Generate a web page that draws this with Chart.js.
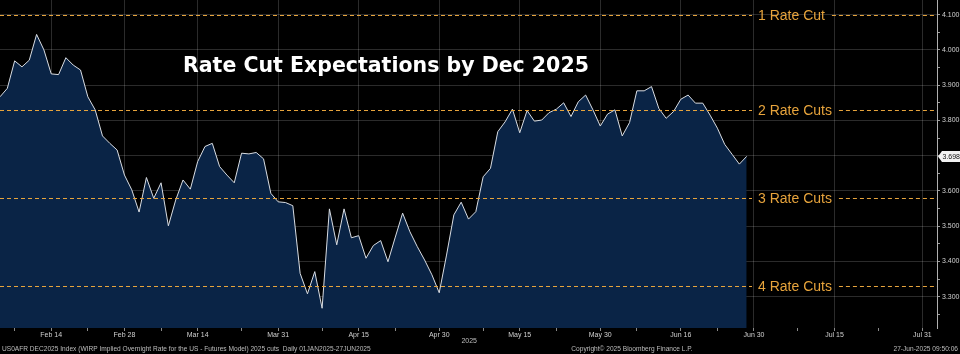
<!DOCTYPE html>
<html>
<head>
<meta charset="utf-8">
<script src="https://cdn.jsdelivr.net/npm/chart.js@4.4.1/dist/chart.umd.min.js"></script>
<style>
  html, body { margin: 0; padding: 0; background: #000; }
  #wrap { width: 960px; height: 354px; }
</style>
</head>
<body>
<div id="wrap"><canvas id="chart" width="960" height="354"></canvas></div>
<script>
// Implied overnight rate for Dec 2025 (WIRP), one value per business day from 5 Feb 2025
var rates = [
  3.867, 3.891, 3.969, 3.952, 3.971, 4.044, 4.000, 3.932, 3.930, 3.978,
  3.957, 3.943, 3.867, 3.830, 3.756, 3.735, 3.716, 3.645, 3.603, 3.540,
  3.638, 3.579, 3.623, 3.501, 3.574, 3.631, 3.605, 3.683, 3.726, 3.735,
  3.669, 3.645, 3.623, 3.707, 3.705, 3.709, 3.691, 3.593, 3.569, 3.567,
  3.558, 3.366, 3.308, 3.371, 3.267, 3.549, 3.447, 3.549, 3.467, 3.473,
  3.409, 3.445, 3.459, 3.399, 3.469, 3.537, 3.484, 3.442, 3.404, 3.362,
  3.311, 3.418, 3.532, 3.568, 3.520, 3.541, 3.640, 3.664, 3.768, 3.796,
  3.832, 3.765, 3.828, 3.798, 3.801, 3.822, 3.832, 3.850, 3.811, 3.853,
  3.872, 3.830, 3.784, 3.818, 3.830, 3.756, 3.794, 3.884, 3.884, 3.896,
  3.834, 3.806, 3.825, 3.860, 3.872, 3.849, 3.849, 3.815, 3.778, 3.732,
  3.704, 3.676, 3.698
];

// axis runs over business days, past the last observation
var firstDay = '2025-02-05';
var lastDay = '2025-08-04';

var tickDates = ['2025-02-14', '2025-02-28', '2025-03-14', '2025-03-31', '2025-04-15', '2025-04-30',
                 '2025-05-15', '2025-05-30', '2025-06-16', '2025-06-30', '2025-07-15', '2025-07-31'];
var tickLabels = ['Feb 14', 'Feb 28', 'Mar 14', 'Mar 31', 'Apr 15', 'Apr 30',
                  'May 15', 'May 30', 'Jun 16', 'Jun 30', 'Jul 15', 'Jul 31'];
var minorTickDates = ['2025-02-07', '2025-02-21', '2025-03-07', '2025-03-24', '2025-04-08', '2025-04-22',
                      '2025-05-08', '2025-05-22', '2025-06-06', '2025-06-23', '2025-07-08', '2025-07-23'];

var yMajor = [3.3, 3.4, 3.5, 3.6, 3.7, 3.8, 3.9, 4.0, 4.1];
var yMinor = [3.25, 3.35, 3.45, 3.55, 3.65, 3.75, 3.85, 3.95, 4.05];

var cutLevels = [4.10, 3.83, 3.58, 3.33];
var cutLabels = ['1 Rate Cut', '2 Rate Cuts', '3 Rate Cuts', '4 Rate Cuts'];

var titleText = 'Rate Cut Expectations by Dec 2025';
var footLeft = 'US0AFR DEC2025 Index (WIRP Implied Overnight Rate for the US - Futures Model) 2025 cuts  Daily 01JAN2025-27JUN2025';
var footMid = 'Copyright\u00A9 2025 Bloomberg Finance L.P.';
var footRight = '27-Jun-2025 09:50:06';

// build business-day categories
var days = [];
var d = new Date(firstDay + 'T00:00:00Z');
var end = new Date(lastDay + 'T00:00:00Z');
while (d <= end) {
  var wd = d.getUTCDay();
  if (wd != 0 && wd != 6) days.push(d.toISOString().slice(0, 10));
  d.setUTCDate(d.getUTCDate() + 1);
}

var majorIdx = tickDates.map(function (t) { return days.indexOf(t); });
var minorIdx = minorTickDates.map(function (t) { return days.indexOf(t); });

var orange = '#e7a43c';
var gridCol = 'rgba(255,255,255,0.17)';

function isMajorY(v) { return Math.abs(v * 10 - Math.round(v * 10)) < 1e-6; }

var overlay = {
  id: 'overlay',
  afterDatasetsDraw: function (chart) {
    var c = chart.ctx, area = chart.chartArea, y = chart.scales.y;
    c.save();

    // rate cut levels
    c.font = '14px "Liberation Sans"';
    c.textBaseline = 'middle';
    var lx = area.right - 179;
    for (var i = 0; i < cutLevels.length; i++) {
      var py = Math.round(y.getPixelForValue(cutLevels[i])) + 0.5;
      var w = c.measureText(cutLabels[i]).width;
      c.strokeStyle = orange;
      c.lineWidth = 1.2;
      c.setLineDash([4, 3]);
      c.beginPath();
      c.moveTo(area.left, py); c.lineTo(lx - 6, py);
      c.moveTo(lx + w + 7, py); c.lineTo(area.right, py);
      c.stroke();
      c.fillStyle = orange;
      c.fillText(cutLabels[i], lx, py + 1);
    }
    c.setLineDash([]);

    // title
    c.font = 'bold 20.5px "DejaVu Sans"';
    c.fillStyle = '#ffffff';
    c.textBaseline = 'alphabetic';
    c.textAlign = 'left';
    c.fillText(titleText, 183, 71.5);
    c.restore();
  },
  afterDraw: function (chart) {
    var c = chart.ctx, area = chart.chartArea, y = chart.scales.y;
    c.save();
    // last value tag
    var last = rates[rates.length - 1];
    var py = Math.round(y.getPixelForValue(last));
    var bx = area.right + 2;
    c.fillStyle = '#f2f2f2';
    c.beginPath();
    c.moveTo(bx - 1, py + 0.5);
    c.lineTo(bx + 3, py - 5);
    c.lineTo(960, py - 5);
    c.lineTo(960, py + 6);
    c.lineTo(bx + 3, py + 6);
    c.closePath();
    c.fill();
    c.font = '7px "Liberation Sans"';
    c.fillStyle = '#111';
    c.textBaseline = 'middle';
    c.textAlign = 'left';
    c.fillText(last.toFixed(3), bx + 3.5, py + 1);

    // footer
    c.fillStyle = '#bdbdbd';
    c.font = '6.6px "Liberation Sans"';
    c.textBaseline = 'middle';
    c.textAlign = 'left';
    c.fillText(footLeft, 2, 349.5);
    c.textAlign = 'center';
    c.fillText(footMid, 632, 349.5);
    c.textAlign = 'right';
    c.fillText(footRight, 958, 349.5);
    c.font = '7px "Liberation Sans"';
    c.fillText('2025', 477, 341);
    c.restore();
  }
};

var ctx = document.getElementById('chart').getContext('2d');
var chart = new Chart(ctx, {
  type: 'line',
  data: {
    labels: days,
    datasets: [{
      data: rates,
      borderColor: '#d9dde3',
      borderWidth: 1,
      backgroundColor: '#0a2446',
      fill: 'start',
      pointRadius: 0,
      tension: 0
    }]
  },
  options: {
    responsive: false,
    animation: false,
    devicePixelRatio: 1,
    layout: { padding: 0 },
    plugins: { legend: { display: false }, tooltip: { enabled: false } },
    scales: {
      x: {
        type: 'category',
        offset: false,
        z: 1,
        afterBuildTicks: function (s) {
          s.ticks = majorIdx.concat(minorIdx).sort(function (a, b) { return a - b; })
            .map(function (v) { return { value: v }; });
        },
        afterFit: function (s) {
          s.height = 26;
          s.paddingLeft = 0; s.paddingRight = 0;
        },
        ticks: {
          autoSkip: false,
          maxRotation: 0,
          padding: 0,
          color: '#d0d0d0',
          font: { family: 'Liberation Sans', size: 7 },
          callback: function (v) {
            var k = majorIdx.indexOf(v);
            return k >= 0 ? tickLabels[k] : '';
          }
        },
        grid: {
          color: function (c) {
            return c.tick && majorIdx.indexOf(c.tick.value) >= 0 ? gridCol : 'rgba(0,0,0,0)';
          },
          tickColor: '#8a8a8a',
          tickLength: 3
        },
        border: { display: false }
      },
      y: {
        position: 'right',
        min: 3.211,
        max: 4.1417,
        z: 1,
        afterBuildTicks: function (s) {
          s.ticks = yMajor.concat(yMinor).sort(function (a, b) { return a - b; })
            .map(function (v) { return { value: v }; });
        },
        afterFit: function (s) {
          s.width = 23;
          s.paddingTop = 0; s.paddingBottom = 0;
        },
        ticks: {
          padding: 2,
          color: '#d0d0d0',
          font: { family: 'Liberation Sans', size: 7 },
          callback: function (v) {
            if (!isMajorY(v) || Math.abs(v - 3.7) < 1e-6) return '';
            return v.toFixed(3);
          }
        },
        grid: {
          color: function (c) {
            return c.tick && isMajorY(c.tick.value) ? gridCol : 'rgba(0,0,0,0)';
          },
          tickColor: '#9a9a9a',
          tickLength: 3
        },
        border: { display: true, color: '#b0b0b0', width: 1 }
      }
    }
  },
  plugins: [overlay]
});
</script>
</body>
</html>
